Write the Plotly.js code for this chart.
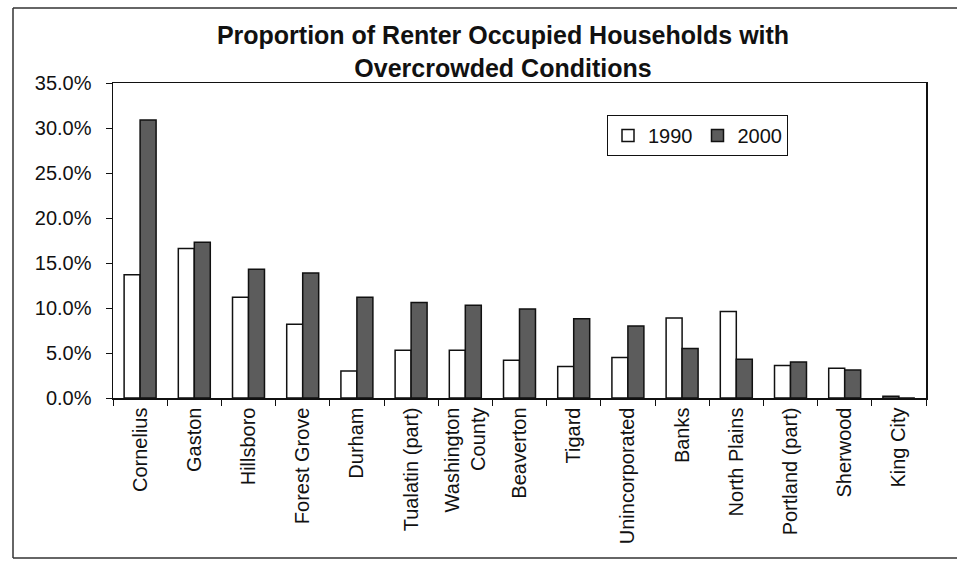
<!DOCTYPE html>
<html>
<head>
<meta charset="utf-8">
<script src="https://cdn.plot.ly/plotly-3.0.1.min.js"></script>
<style>
  html, body { margin: 0; padding: 0; background: #ffffff; }
  #chart { width: 957px; height: 564px; }
</style>
</head>
<body>
<div id="chart"></div>
<script>
// ---- Data (percent of renter-occupied households overcrowded) ----
var categories = [
  "Cornelius", "Gaston", "Hillsboro", "Forest Grove", "Durham",
  "Tualatin (part)", "Washington<br>County", "Beaverton", "Tigard",
  "Unincorporated", "Banks", "North Plains", "Portland (part)",
  "Sherwood", "King City"
];
var values1990 = [13.7, 16.6, 11.2, 8.2, 3.0, 5.3, 5.3, 4.2, 3.5, 4.5, 8.9, 9.6, 3.6, 3.3, 0.2];
var values2000 = [30.9, 17.3, 14.3, 13.9, 11.2, 10.6, 10.3, 9.9, 8.8, 8.0, 5.5, 4.3, 4.0, 3.1, 0.0];
var seriesNames = ["1990", "2000"];
var yTicks = [0, 5, 10, 15, 20, 25, 30, 35];

var FONT = "Liberation Sans, Arial, Helvetica, sans-serif";

var traces = [
  {
    type: "bar",
    name: seriesNames[0],
    x: categories,
    y: values1990,
    marker: { color: "#ffffff", line: { color: "#111111", width: 1.5 } },
    hoverinfo: "x+y"
  },
  {
    type: "bar",
    name: seriesNames[1],
    x: categories,
    y: values2000,
    marker: { color: "#5c5c5c", line: { color: "#111111", width: 1.5 } },
    hoverinfo: "x+y"
  }
];

var L = 113, R = 31, T = 83, B = 166;
var pw = 957 - L - R, ph = 564 - T - B;
function px2x(px) { return (px - L) / pw; }
function py2y(py) { return (564 - B - py) / ph; }

var frameLine = { color: "#333333", width: 1.5 };

var layout = {
  width: 957,
  height: 564,
  margin: { l: L, r: R, t: T, b: B, pad: 0 },
  paper_bgcolor: "#ffffff",
  plot_bgcolor: "#ffffff",
  font: { family: FONT, color: "#111111", size: 20 },
  title: {
    text: "<b>Proportion of Renter Occupied Households with<br>Overcrowded Conditions</b>",
    font: { family: FONT, size: 25, color: "#111111" },
    x: px2x(503),
    xanchor: "center",
    xref: "paper",
    y: 1 - 44 / 564,
    yref: "container",
    yanchor: "middle"
  },
  barmode: "group",
  bargap: 0.41,
  bargroupgap: 0,
  showlegend: true,
  legend: {
    orientation: "h",
    x: px2x(607),
    y: py2y(115),
    xanchor: "left",
    yanchor: "top",
    bgcolor: "#ffffff",
    bordercolor: "#111111",
    borderwidth: 1,
    font: { family: FONT, size: 20, color: "#111111" },
    traceorder: "normal",
    tracegroupgap: 0,
    itemwidth: 30
  },
  xaxis: {
    type: "category",
    tickangle: -90,
    showline: true,
    linecolor: "#111111",
    linewidth: 1.5,
    mirror: true,
    ticks: "outside",
    tickson: "boundaries",
    ticklen: 6,
    tickcolor: "#111111",
    showgrid: false,
    zeroline: false,
    tickfont: { family: FONT, size: 20, color: "#111111" },
    automargin: false
  },
  yaxis: {
    range: [0, 35],
    tickvals: yTicks,
    ticktext: yTicks.map(function (v) { return v.toFixed(1) + "%"; }),
    showline: true,
    linecolor: "#111111",
    linewidth: 1.5,
    mirror: true,
    ticks: "outside",
    ticklen: 6,
    tickcolor: "#111111",
    ticklabelstandoff: 10,
    showgrid: false,
    zeroline: false,
    tickfont: { family: FONT, size: 20, color: "#111111" },
    automargin: false
  },
  shapes: [
    { type: "line", xref: "paper", yref: "paper",
      x0: px2x(13), x1: px2x(13), y0: py2y(558), y1: py2y(8), line: frameLine, layer: "below" },
    { type: "line", xref: "paper", yref: "paper",
      x0: px2x(13), x1: px2x(957), y0: py2y(8), y1: py2y(8), line: frameLine, layer: "below" },
    { type: "line", xref: "paper", yref: "paper",
      x0: px2x(13), x1: px2x(957), y0: py2y(558), y1: py2y(558), line: frameLine, layer: "below" }
  ]
};

Plotly.newPlot("chart", traces, layout, { displayModeBar: false, staticPlot: true });
</script>
</body>
</html>
